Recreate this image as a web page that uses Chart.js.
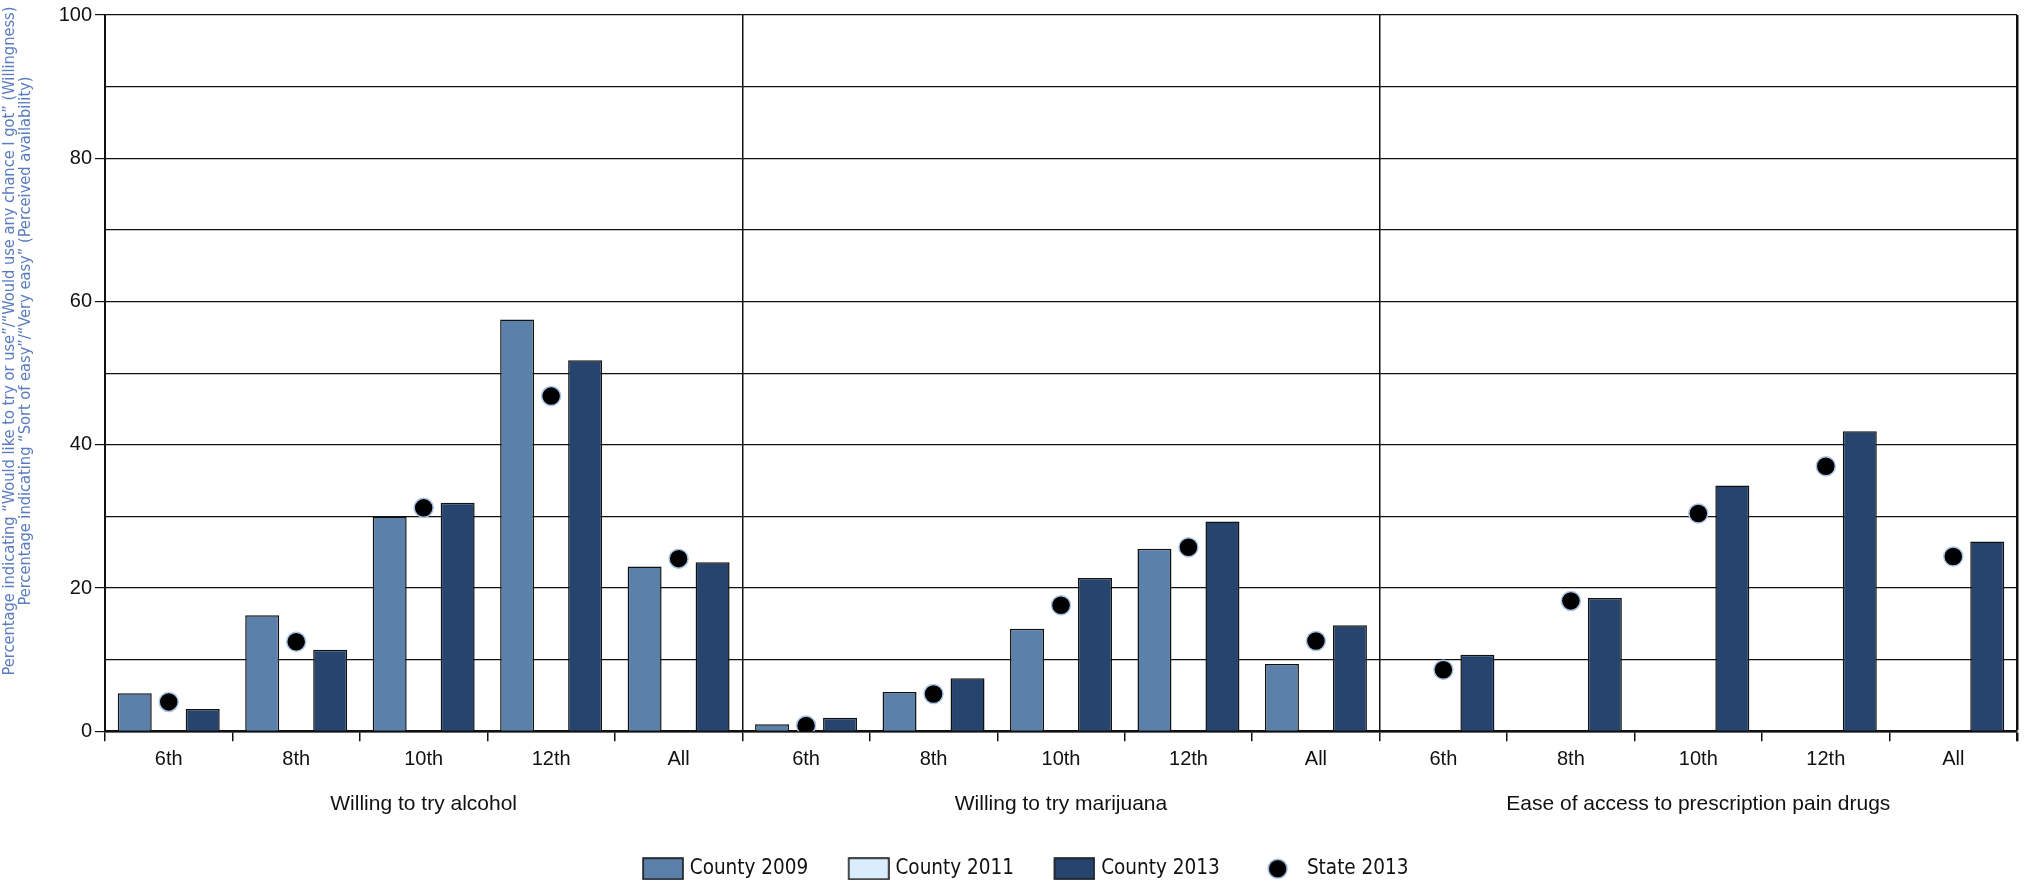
<!DOCTYPE html>
<html>
<head>
<meta charset="utf-8">
<script src="https://cdn.jsdelivr.net/npm/chart.js@4"></script>
<style>
  html, body { margin: 0; padding: 0; background: #fff; }
  #wrap { width: 2028px; height: 883px; }
</style>
</head>
<body>
<div id="wrap"><canvas id="grafico_idade"></canvas></div>
<script>
/* dados */
const categorias = [
    '6th', '8th', '10th', '12th', 'All',
    '6th', '8th', '10th', '12th', 'All',
    '6th', '8th', '10th', '12th', 'All'
];

const grupos = [
    'Willing to try alcohol',
    'Willing to try marijuana',
    'Ease of access to prescription pain drugs'
];

const county_2009 = [5.3, 16.2, 30.0, 57.5, 23.0, 1.0, 5.5, 14.3, 25.5, 9.4, null, null, null, null, null];
const county_2011 = [null, null, null, null, null, null, null, null, null, null, null, null, null, null, null];
const county_2013 = [3.1, 11.4, 31.9, 51.8, 23.6, 1.9, 7.4, 21.4, 29.3, 14.8, 10.7, 18.6, 34.3, 41.9, 26.5];
const state_2013 = [4.1, 12.5, 31.2, 46.8, 24.1, 0.8, 5.2, 17.6, 25.7, 12.6, 8.6, 18.2, 30.4, 37.0, 24.4];

const titulo_y = [
    'Percentage indicating \u201cWould like to try or use\u201d/\u201cWould use any chance I got\u201d (Willingness)',
    'Percentage indicating \u201cSort of easy\u201d/\u201cVery easy\u201d (Perceived availability)'
];

const fonte_estreita = "'Liberation Sans Narrow', 'DejaVu Sans Condensed', sans-serif";
const fonte_normal = "'Liberation Sans', Arial, sans-serif";

/* símbolos da legenda desenhados num canvas pequeno */
function caixaLegenda(cor, borda) {
    const c = document.createElement('canvas');
    c.width = 79;
    c.height = 23;
    const g = c.getContext('2d');
    g.fillStyle = cor;
    g.fillRect(38, 1, 40, 21);
    g.strokeStyle = borda;
    g.lineWidth = 1.5;
    g.strokeRect(38, 1, 40, 21);
    return c;
}

function pontoLegenda() {
    const c = document.createElement('canvas');
    c.width = 99;
    c.height = 23;
    const g = c.getContext('2d');
    g.beginPath();
    g.arc(65.5, 11.5, 9.5, 0, Math.PI * 2);
    g.fillStyle = '#000';
    g.fill();
    g.strokeStyle = '#a9c4e4';
    g.lineWidth = 1.5;
    g.stroke();
    return c;
}

const simbolos = [
    caixaLegenda('#5b80aa', '#111'),
    caixaLegenda('#daedfc', '#111'),
    caixaLegenda('#26446e', '#111'),
    pontoLegenda()
];

/* título do eixo y em duas linhas, um pouco acima do centro como no original */
const plugin_titulo_y = {
    id: 'tituloY',
    afterDraw: function (chart) {
        const ctx = chart.ctx;
        ctx.save();
        ctx.font = '100px ' + fonte_estreita;
        const tamanho = 100 * 669 / ctx.measureText(titulo_y[0]).width;
        ctx.font = tamanho + 'px ' + fonte_estreita;
        ctx.fillStyle = '#5b7cc0';
        ctx.textAlign = 'center';
        ctx.textBaseline = 'middle';
        ctx.translate(0, 341);
        ctx.rotate(-Math.PI / 2);
        ctx.fillText(titulo_y[0], 0, 10);
        ctx.fillText(titulo_y[1], 0, 26);
        ctx.restore();
    }
};

const data_grafico = {
    labels: categorias,
    datasets: [{
        label: 'County 2009',
        data: county_2009,
        backgroundColor: '#5b80aa',
        borderColor: '#111',
        borderWidth: 1.5
    }, {
        label: 'County 2011',
        data: county_2011,
        backgroundColor: '#daedfc',
        borderColor: '#111',
        borderWidth: 1.5
    }, {
        label: 'County 2013',
        data: county_2013,
        backgroundColor: '#26446e',
        borderColor: '#111',
        borderWidth: 1.5
    }, {
        type: 'line',
        label: 'State 2013',
        data: state_2013,
        showLine: false,
        pointRadius: 9.5,
        pointBackgroundColor: '#000',
        pointBorderColor: '#a9c4e4',
        pointBorderWidth: 1.5
    }]
};

const config_grafico = {
    type: 'bar',
    data: data_grafico,
    plugins: [plugin_titulo_y],
    options: {
        responsive: true,
        maintainAspectRatio: false,
        animation: false,
        categoryPercentage: 0.8,
        barPercentage: 1.0,
        layout: {
            padding: { top: 14, right: 10, left: 0, bottom: -6 }
        },
        plugins: {
            tooltip: { enabled: false },
            legend: {
                position: 'bottom',
                labels: {
                    usePointStyle: true,
                    pointStyleWidth: 70,
                    boxHeight: 21,
                    padding: 7,
                    color: '#111',
                    font: { family: fonte_estreita, size: 20.5 },
                    generateLabels: function (chart) {
                        const itens = Chart.defaults.plugins.legend.labels.generateLabels(chart);
                        itens.forEach(function (item, i) {
                            item.pointStyle = simbolos[i];
                        });
                        return itens;
                    }
                }
            }
        },
        scales: {
            x: {
                grid: {
                    offset: true,
                    color: function (ctx) {
                        if (ctx.index === undefined || ctx.index % 5 === 0) return '#111';
                        return 'rgba(0,0,0,0)';
                    },
                    lineWidth: function (ctx) {
                        return ctx.index === undefined ? 2.5 : 1.5;
                    },
                    tickColor: '#111',
                    tickLength: 10
                },
                border: { color: '#111', width: 2.5 },
                ticks: {
                    color: '#111',
                    padding: 6,
                    maxRotation: 0,
                    autoSkip: false,
                    font: { family: fonte_normal, size: 20 }
                }
            },
            x2: {
                type: 'category',
                labels: grupos,
                position: 'bottom',
                grid: { display: false, drawTicks: false },
                border: { display: false },
                ticks: {
                    color: '#111',
                    padding: 14,
                    maxRotation: 0,
                    font: { family: fonte_normal, size: 21 }
                },
                afterFit: function (scale) {
                    scale.height = scale.height + 21;
                }
            },
            y: {
                min: 0,
                max: 100,
                grid: {
                    color: '#111',
                    lineWidth: 1.2,
                    tickLength: 10,
                    tickColor: function (ctx) {
                        if (ctx.tick && ctx.tick.value % 20 === 0) return '#111';
                        return 'rgba(0,0,0,0)';
                    }
                },
                border: { color: '#111', width: 2 },
                ticks: {
                    stepSize: 10,
                    color: '#111',
                    padding: 3,
                    font: { family: fonte_normal, size: 20 },
                    callback: function (v) {
                        return v % 20 === 0 ? v : '';
                    }
                },
                afterFit: function (scale) {
                    scale.width = 105;
                }
            }
        }
    }
};

const grafico_idade = new Chart(
    document.getElementById('grafico_idade'),
    config_grafico
);
</script>
</body>
</html>
